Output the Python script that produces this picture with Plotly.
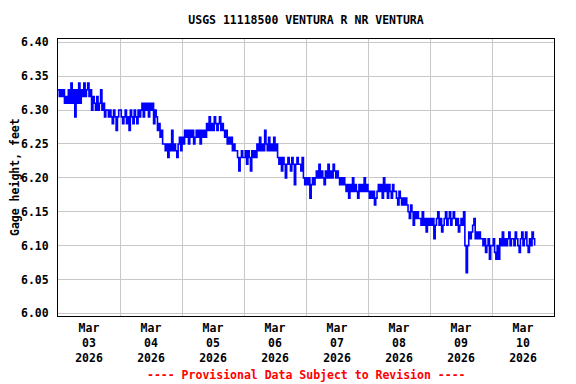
import pandas as pd
import plotly.graph_objects as go

# Gage height readings every 30 minutes, in hundredths of a foot above 6.00 ft
start_time = "2026-03-03 00:00"
step = "30min"
mar03 = [33, 32, 33, 32, 33, 31, 32, 31,
         33, 31, 34, 31, 33, 29, 33, 31, 34, 31,
         33, 32, 34, 32, 33, 34, 32, 33, 30, 32,
         31, 30, 32, 30, 31, 33, 30, 31, 29, 30,
         30, 29, 30, 29, 28, 30, 29, 27, 29, 30]
mar04 = [30, 29, 28, 29, 30, 28, 29, 27, 30, 29, 28, 30, 29, 28, 30, 29,
         30, 31, 29, 31, 30, 31, 29, 31, 30, 31, 28, 30,
         29, 27, 28, 26, 27, 25,
         25, 24, 25, 23, 25, 24, 27, 24, 25, 24, 23, 25, 26, 24]
mar05 = [26, 25, 27,
         26, 27, 25, 27, 26, 27, 25, 26, 27, 26, 27, 25, 27, 26, 27, 26,
         28, 27, 29, 27, 28, 27, 29, 28, 27, 28, 29, 27, 28, 27,
         26, 27, 25, 26, 25, 26, 24, 25, 24,
         24, 23, 21, 23, 24, 23]
mar06 = [23, 24, 22, 24, 23, 21, 24, 23, 24, 23,
         25, 24, 26, 24, 25, 24, 27, 25, 24, 26, 24, 25, 24, 26, 24, 25,
         23, 22, 23, 21, 23, 22, 20, 22, 23, 22, 21, 23, 22, 19, 22, 23, 22,
         22, 21, 23, 20, 19]
mar07 = [20, 19, 20, 17, 19, 20, 19, 20,
         21, 20, 22, 20, 21, 20, 19, 21, 20, 22, 20, 21, 20, 22, 21, 20, 21,
         20, 19, 20, 19, 20,
         19, 18, 19, 17, 19, 18, 20, 18, 19, 18, 17, 19, 18, 19, 18, 20, 18, 19]
mar08 = [18, 17, 18, 17, 18, 16, 17, 18,
         19, 18, 19, 17, 20, 18, 19, 17, 19, 18, 17, 19, 18,
         18, 17, 16, 18, 17, 16, 17, 16, 17,
         16, 15, 14, 16, 15, 13, 15, 14, 15, 14,
         14, 13, 15, 13, 14, 12, 14, 13]
mar09 = [14, 13, 14, 11, 13, 14, 15, 13, 14, 12, 13, 14,
         15, 13, 14, 15, 13, 14, 15, 14, 13,
         14, 12, 13, 14, 13,
         15, 10, 6, 10, 12, 11, 12, 13, 14, 11, 12, 11, 12, 11,
         11, 10, 11, 9, 10, 11, 8, 10]
mar10 = [10, 11, 9, 8, 10, 8,
         11, 10, 12, 10, 11, 10, 11, 12, 10, 11,
         11, 10, 12, 11, 10, 9, 11, 12, 10, 11, 12, 10, 9, 11, 10, 12, 11, 10]

x_range = ["2026-03-03 00:00", "2026-03-11 00:00"]
y_range = [5.9961, 6.4049]
y_ticks = [6.00, 6.05, 6.10, 6.15, 6.20, 6.25, 6.30, 6.35, 6.40]

title_text = "USGS 11118500 VENTURA R NR VENTURA"
y_title = "Gage height, feet"
footer_text = "---- Provisional Data Subject to Revision ----"

hundredths = mar03 + mar04 + mar05 + mar06 + mar07 + mar08 + mar09 + mar10
times = pd.date_range(start_time, periods=len(hundredths), freq=step)
gage = [6 + v / 100 for v in hundredths]

FONT = "DejaVu Sans Mono"
W, H = 568, 376  # page body margin of 8px offsets the figure

fig = go.Figure()
fig.add_trace(go.Scatter(x=times, y=gage, mode="lines",
                         line=dict(color="#0000ff", width=1.6, shape="hv"),
                         hoverinfo="skip"))

fig.update_layout(
    width=W, height=H,
    margin=dict(l=50, r=22, t=31, b=68),
    plot_bgcolor="white", paper_bgcolor="white",
    showlegend=False,
    font=dict(family=FONT, size=11.5, color="black", weight="bold"),
    title=dict(text=title_text, x=0.5, xref="paper", xanchor="center",
               y=1 - 12 / H, yref="container", yanchor="middle",
               font=dict(family=FONT, size=11.5, color="black", weight="bold")),
)

fig.update_xaxes(
    range=x_range, type="date",
    tick0="2026-03-03", dtick=86400000, ticklabelmode="period",
    tickformat="%b<br>%d<br>%Y", ticks="", ticklabelstandoff=1,
    showgrid=True, gridcolor="#c8c8c8", gridwidth=1,
    showline=True, mirror=True, linecolor="black", linewidth=1,
    zeroline=False,
    tickfont=dict(family=FONT, size=11.5, color="black", weight="bold"),
)
fig.update_yaxes(
    range=y_range, tickmode="array", tickvals=y_ticks, tickformat=".2f",
    ticks="", ticklabelstandoff=6,
    showgrid=True, gridcolor="#c8c8c8", gridwidth=1,
    showline=True, mirror=True, linecolor="black", linewidth=1,
    zeroline=False,
    tickfont=dict(family=FONT, size=11.5, color="black", weight="bold"),
)

fig.add_annotation(text=y_title, textangle=-90, xref="paper", yref="paper",
                   x=(14.5 - 58) / 496, y=0.5, xanchor="center", yanchor="middle",
                   showarrow=False,
                   font=dict(family=FONT, size=11.5, color="black", weight="bold"))
fig.add_annotation(text=footer_text, xref="paper", yref="paper",
                   x=0.5, y=-(375 - 316) / 277, xanchor="center", yanchor="middle",
                   showarrow=False,
                   font=dict(family=FONT, size=11.5, color="#ff0000", weight="bold"))

fig.write_html("out.html")
